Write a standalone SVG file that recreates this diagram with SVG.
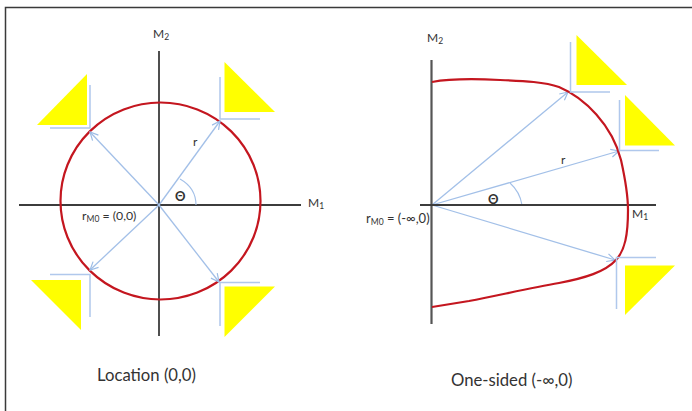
<svg xmlns="http://www.w3.org/2000/svg" width="692" height="411" viewBox="0 0 692 411">
<defs>
<marker id="ah" markerUnits="userSpaceOnUse" markerWidth="12" markerHeight="12" refX="9" refY="5" orient="auto"><path d="M1 1 L9 5 L1 9" fill="none" stroke="#9dbde6" stroke-width="1.2"/></marker>
</defs>
<style>
.axis{stroke:#3c3c3c;stroke-width:1.8;fill:none}
.red{stroke:#c4161f;stroke-width:2.2;fill:none}
.ray{stroke:#a3c0e8;stroke-width:1.3;fill:none;marker-end:url(#ah)}
.corner{stroke:#b0c8ec;stroke-width:1.5;fill:none}
.arc{stroke:#a3c0e8;stroke-width:1.1;fill:none}
.tri{fill:#ffff00}
text{font-family:"Lato","Open Sans","Liberation Sans",sans-serif;fill:#333}
.m{font-size:12px}
.sm{font-size:12.3px}
.sm2{font-size:13px}
.sub{font-size:8.5px}
.th{font-size:13px;font-weight:700}
.cap{font-size:16.7px}
</style>
<rect width="692" height="411" fill="#ffffff"/>
<path d="M5.5 411 V7.5 H692" fill="none" stroke="#3a3a3a" stroke-width="1.5"/>
<g id="left-axes">
<path class="axis" d="M159 51 V336"/>
<path class="axis" d="M19 205 H301"/>
<ellipse class="red" cx="160.5" cy="201" rx="100" ry="98.5"/>
</g>
<g id="connectors">
<path class="ray" d="M159 205 L90 132"/>
<path class="ray" d="M159 205 L220 121"/>
<path class="ray" d="M159 205 L90 270"/>
<path class="ray" d="M159 205 L219 282"/>
<path class="arc" d="M180 179 Q196 188 196 205"/>
<path class="ray" d="M432 205 L568 92"/>
<path class="ray" d="M432 205 L619 151"/>
<path class="ray" d="M432 205 L615 260"/>
<path class="arc" d="M510 183 Q520 192 522 205"/>
</g>
<g id="node-tl"><polygon class="tri" points="87,74 87,125 37,125"/><path class="corner" d="M90 85 V128 H50"/></g>
<g id="node-tr"><polygon class="tri" points="224.5,62 224.5,112 275,112"/><path class="corner" d="M220 77 V119 H260"/></g>
<g id="node-bl"><polygon class="tri" points="31,280 81,280 81,330"/><path class="corner" d="M50 274.5 H90 V317"/></g>
<g id="node-br"><polygon class="tri" points="224.5,286.5 275,286.5 224.5,337"/><path class="corner" d="M220 326 V282.5 H260"/></g>
<g id="right-axes">
<path class="axis" d="M431.5 60 V324" style="stroke:#555;stroke-width:2.2"/>
<path class="axis" d="M420 205 H656"/>
<path class="red" d="M432 82 C448 79 470 78.5 500 80 C525 81 545 82 559 87 C585 98 612 125 621 160 C625 178 628 195 628 210 C628 235 625 250 616 260 C605 272 585 278 559 283 C530 288 500 295 469 301 C456 303 444 305 432 307"/>
</g>
<g id="node-r1"><polygon class="tri" points="576.5,35 576.5,85 627,85"/><path class="corner" d="M570.5 42 V92 H610"/></g>
<g id="node-r2"><polygon class="tri" points="625,95 625,145.5 675,145.5"/><path class="corner" d="M619.5 100 V150.5 H659"/></g>
<g id="node-r3"><polygon class="tri" points="625,265.5 675,265.5 625,315"/><path class="corner" d="M656 257.5 H616.5 V309"/></g>
<g id="labels">
<text class="m" x="153" y="38">M<tspan class="sub" dy="2">2</tspan></text>
<text class="m" x="308" y="207">M<tspan class="sub" dy="2">1</tspan></text>
<text class="m" x="193" y="146">r</text>
<text class="th" x="175" y="201">Θ</text>
<text class="sm" x="82" y="219.5">r<tspan class="sub" dy="2">M0</tspan><tspan dy="-2"> = (0,0)</tspan></text>
<text class="cap" x="97" y="381">Location (0,0)</text>
<text class="m" x="427" y="42">M<tspan class="sub" dy="2">2</tspan></text>
<text class="m" x="632" y="218">M<tspan class="sub" dy="2">1</tspan></text>
<text class="m" x="561" y="164">r</text>
<text class="th" x="488" y="204">Θ</text>
<text class="sm2" x="366" y="222.5">r<tspan class="sub" dy="2">M0</tspan><tspan dy="-2"> = (-∞,0)</tspan></text>
<text class="cap" x="451" y="385.5">One-sided (-∞,0)</text>
</g>
</svg>
